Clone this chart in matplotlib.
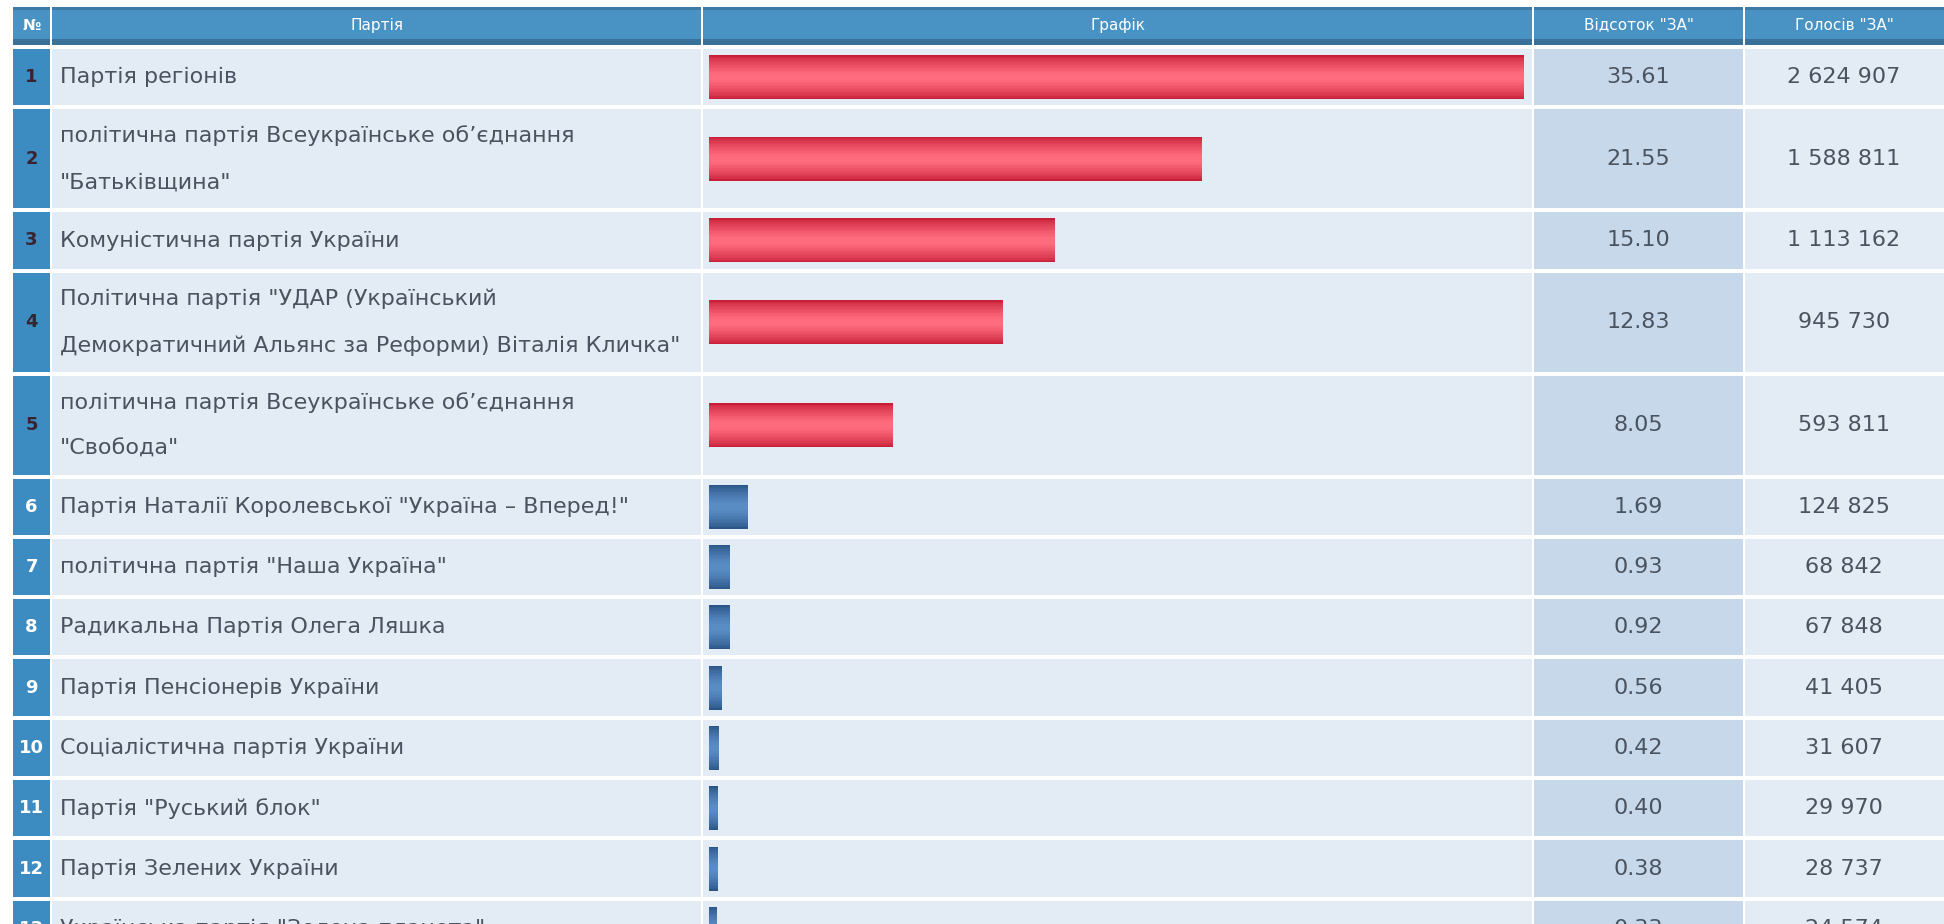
import matplotlib.pyplot as plt
import numpy as np
from matplotlib.patches import Rectangle
from matplotlib.colors import to_rgb

# data
numbers = list(range(1, 14))
parties = [
    'Партія регіонів',
    'політична партія Всеукраїнське об\u2019єднання\n"Батьківщина"',
    'Комуністична партія України',
    'Політична партія "УДАР (Український\nДемократичний Альянс за Реформи) Віталія Кличка"',
    'політична партія Всеукраїнське об\u2019єднання\n"Свобода"',
    'Партія Наталії Королевської "Україна \u2013 Вперед!"',
    'політична партія "Наша Україна"',
    'Радикальна Партія Олега Ляшка',
    'Партія Пенсіонерів України',
    'Соціалістична партія України',
    'Партія "Руський блок"',
    'Партія Зелених України',
    'Українська партія "Зелена планета"',
]
percent = [35.61, 21.55, 15.10, 12.83, 8.05, 1.69, 0.93, 0.92, 0.56, 0.42, 0.40, 0.38, 0.33]
votes = ['2 624 907', '1 588 811', '1 113 162', '945 730', '593 811', '124 825',
         '68 842', '67 848', '41 405', '31 607', '29 970', '28 737', '24 574']
headers = ['№', 'Партія', 'Графік', 'Відсоток "ЗА"', 'Голосів "ЗА"']
threshold = 5.0

W, H = 1944, 924
fig = plt.figure(figsize=(W / 100, H / 100), dpi=100)
fig.patch.set_facecolor('white')
ax = fig.add_axes([0, 0, 1, 1])
ax.set_xlim(0, W)
ax.set_ylim(H, 0)
ax.axis('off')

cols = [12, 51, 702, 1533, 1744, 1960]
cell_bg = '#e3ebf4'
pct_bg = '#c8d8eb'
num_bg = '#3c8cc2'
text_c = '#4a5460'
fs = 16

# header
top, hh = 7, 38
for i in range(5):
    x0, x1 = cols[i], cols[i + 1]
    ax.add_patch(Rectangle((x0 + 1, top), x1 - x0 - 2, hh, color='#4893c3', lw=0))
    ax.add_patch(Rectangle((x0 + 1, top), x1 - x0 - 2, 3, color='#3d7aa6', lw=0))
    ax.add_patch(Rectangle((x0 + 1, top + hh - 6), x1 - x0 - 2, 6, color='#3a7198', lw=0))
    xc = (x0 + min(x1, W)) / 2
    ax.text(xc, top + hh / 2 - 1, headers[i], color='white', fontsize=11,
            ha='center', va='center', fontweight='bold' if i == 0 else 'normal')

# rows
y = top + hh + 2
centers = []
for k in range(len(parties)):
    lines = parties[k].split('\n')
    h = 60.3 if len(lines) == 1 else 103
    yc = y + h / 2
    centers.append(yc)
    for i in range(5):
        x0, x1 = cols[i], cols[i + 1]
        c = [num_bg, cell_bg, cell_bg, pct_bg, cell_bg][i]
        ax.add_patch(Rectangle((x0 + 1, y + 2), x1 - x0 - 2, h - 4, color=c, lw=0))
    big = percent[k] >= threshold
    ax.text((cols[0] + cols[1]) / 2, yc, str(numbers[k]),
            color='#3a2330' if big else 'white', fontsize=13,
            ha='center', va='center', fontweight='bold')
    if len(lines) == 1:
        ax.text(60, yc, lines[0], color=text_c, fontsize=fs, ha='left', va='center')
    else:
        ax.text(60, yc - 23, lines[0], color=text_c, fontsize=fs, ha='left', va='center')
        ax.text(60, yc + 24, lines[1], color=text_c, fontsize=fs, ha='left', va='center')
    ax.text((cols[3] + cols[4]) / 2, yc, f'{percent[k]:.2f}', color=text_c,
            fontsize=fs, ha='center', va='center')
    ax.text((cols[4] + W) / 2, yc, votes[k], color=text_c,
            fontsize=fs, ha='center', va='center')
    y += h

# bars
bx = fig.add_axes([709 / W, 0, (1533 - 709) / W, 1])
bx.set_xlim(0, 36)
bx.set_ylim(H, 0)
bx.axis('off')
bx.patch.set_alpha(0)


def layers(edge, mid, n=14, hmax=44):
    e, m = np.array(to_rgb(edge)), np.array(to_rgb(mid))
    out = []
    for j in range(n):
        t = j / (n - 1)
        out.append((hmax * (1 - 0.85 * t), tuple(e + (m - e) * t ** 0.7)))
    return out


red_layers = layers('#c81f38', '#ff6b7e')
blue_layers = layers('#2a5586', '#5a8cc4')
for k in range(len(percent)):
    lay = red_layers if percent[k] >= threshold else blue_layers
    for hgt, col in lay:
        bx.barh(centers[k], percent[k], height=hgt, color=col, lw=0, left=0)

fig.savefig('out.png', dpi=100)
